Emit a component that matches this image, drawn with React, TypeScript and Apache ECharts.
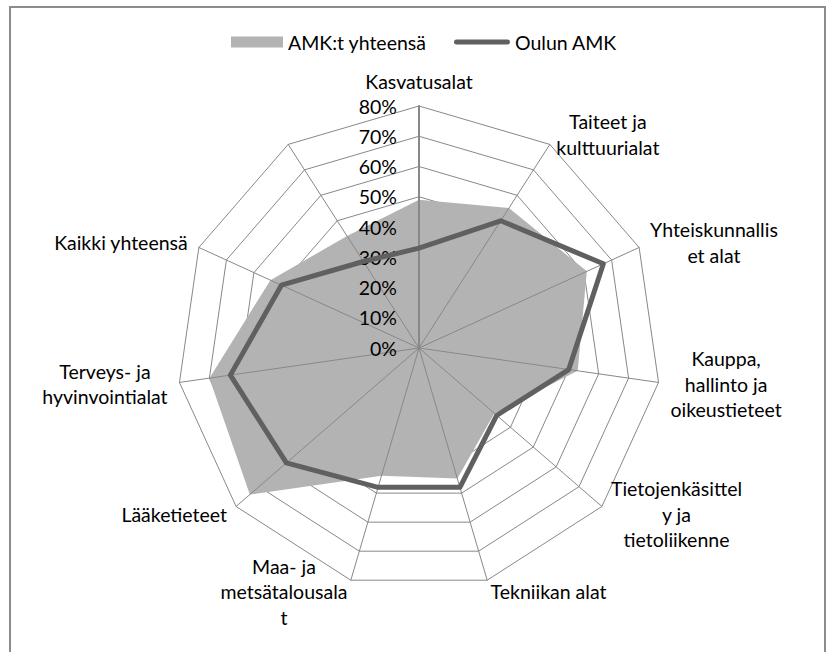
import React, { useEffect, useRef } from 'react';
import * as echarts from 'echarts';

// Categories in clockwise order starting from the top (as in the reference)
const categories: string[] = [
  'Kasvatusalat',
  'Taiteet ja\nkulttuurialat',
  'Yhteiskunnallis\net alat',
  'Kauppa,\nhallinto ja\noikeustieteet',
  'Tietojenkäsittel\ny ja\ntietoliikenne',
  'Tekniikan alat',
  'Maa- ja\nmetsätalousala\nt',
  'Lääketieteet',
  'Terveys- ja\nhyvinvointialat',
  'Kaikki yhteensä',
  '',
];

// Values in percent, same order as categories
const amkTotal: number[] = [49, 55, 61, 53, 33, 45, 44, 74, 70, 54, 44];
const ouluAmk: number[] = [33, 50, 67, 50, 34, 48, 48, 58, 63, 50, 34];

const seriesNames: string[] = ['AMK:t yhteensä', 'Oulun AMK'];

// Value-axis ticks (percent)
const tickValues: number[] = [0, 10, 20, 30, 40, 50, 60, 70, 80];

const FONT = 'Lato, Carlito, Calibri, sans-serif';
const FS = 19.5;

export default function App() {
  const ref = useRef<HTMLDivElement>(null);

  useEffect(() => {
    if (!ref.current) return;
    const chart = echarts.init(ref.current, undefined, { renderer: 'svg' });

    // ECharts lays radar indicators counter-clockwise; reorder so that the
    // picture runs clockwise from the top like the reference.
    const order = [0, ...categories.map((_, i) => i).slice(1).reverse()];
    const axisMin = tickValues[0];
    const axisMax = tickValues[tickValues.length - 1];
    const split = tickValues.length - 1;

    const indicatorsBase = order.map((i) => ({
      name: categories[i],
      min: axisMin,
      max: axisMax,
    }));

    const indicatorsTop = order.map((i, k) =>
      k === 0
        ? {
            name: categories[i],
            min: axisMin,
            max: axisMax,
            axisLabel: {
              show: true,
              margin: 22,
              formatter: '{value}%',
              color: '#000',
              fontFamily: FONT,
              fontSize: FS,
            },
            axisLine: { show: true, lineStyle: { color: '#888', width: 2 } },
          }
        : { name: categories[i], min: axisMin, max: axisMax }
    );

    const center = [419, 348];
    const radius = 242;

    const nameFormatter = (name: string) =>
      name
        ? name
            .split('\n')
            .map((s) => `{c|${s}}`)
            .join('\n')
        : '';

    const option: any = {
      animation: false,
      backgroundColor: '#fff',
      graphic: [
        {
          type: 'rect',
          silent: true,
          z: -10,
          shape: { x: 10, y: 7, width: 815, height: 700 },
          style: { fill: 'none', stroke: '#8c8c8c', lineWidth: 2 },
        },
      ],
      legend: [
        {
          data: [{ name: seriesNames[0], icon: 'rect' }],
          left: 231,
          top: 32,
          padding: 0,
          itemWidth: 52,
          itemHeight: 11,
          itemStyle: { borderWidth: 0 },
          selectedMode: false,
          textStyle: { color: '#000', fontFamily: FONT, fontSize: FS },
        },
        {
          data: [
            {
              name: seriesNames[1],
              icon: 'path://M2.5,0H53.5A2.5,2.5,0,0,1,53.5,5H2.5A2.5,2.5,0,0,1,2.5,0Z',
            },
          ],
          left: 454,
          top: 32,
          padding: 0,
          itemWidth: 56,
          itemHeight: 5,
          itemStyle: { borderWidth: 0 },
          selectedMode: false,
          textStyle: { color: '#000', fontFamily: FONT, fontSize: FS },
        },
      ],
      radar: [
        {
          center,
          radius,
          startAngle: 90,
          shape: 'polygon',
          splitNumber: split,
          indicator: indicatorsBase,
          axisName: { show: false },
          axisLine: { show: false },
          axisTick: { show: false },
          axisLabel: { show: false },
          splitArea: { show: false },
          splitLine: { show: true, lineStyle: { color: '#888', width: 1 } },
          z: 0,
        },
        {
          center,
          radius,
          startAngle: 90,
          shape: 'polygon',
          splitNumber: split,
          indicator: indicatorsTop,
          nameGap: 12,
          axisName: {
            show: true,
            color: '#000',
            fontFamily: FONT,
            fontSize: FS,
            formatter: nameFormatter,
            rich: {
              c: {
                align: 'center',
                color: '#000',
                fontFamily: FONT,
                fontSize: FS,
                lineHeight: 25.6,
              },
            },
          },
          axisLine: { show: true, lineStyle: { color: '#888', width: 1 } },
          axisTick: { show: false },
          axisLabel: { show: false },
          splitArea: { show: false },
          splitLine: { show: false },
          z: 3,
        },
      ],
      series: [
        {
          type: 'radar',
          radarIndex: 0,
          z: 2,
          symbol: 'none',
          data: [
            {
              name: seriesNames[0],
              value: order.map((i) => amkTotal[i]),
              itemStyle: { color: '#b3b3b3' },
              lineStyle: { width: 0, opacity: 0 },
              areaStyle: { color: '#b3b3b3', opacity: 1 },
            },
          ],
        },
        {
          type: 'radar',
          radarIndex: 0,
          z: 4,
          symbol: 'none',
          data: [
            {
              name: seriesNames[1],
              value: order.map((i) => ouluAmk[i]),
              itemStyle: { color: '#606060' },
              lineStyle: { color: '#606060', width: 5 },
            },
          ],
        },
      ],
    };

    chart.setOption(option);
    return () => chart.dispose();
  }, []);

  return (
    <div
      ref={ref}
      style={{ position: 'fixed', left: 0, top: 0, width: 832, height: 652, background: '#fff' }}
    />
  );
}
